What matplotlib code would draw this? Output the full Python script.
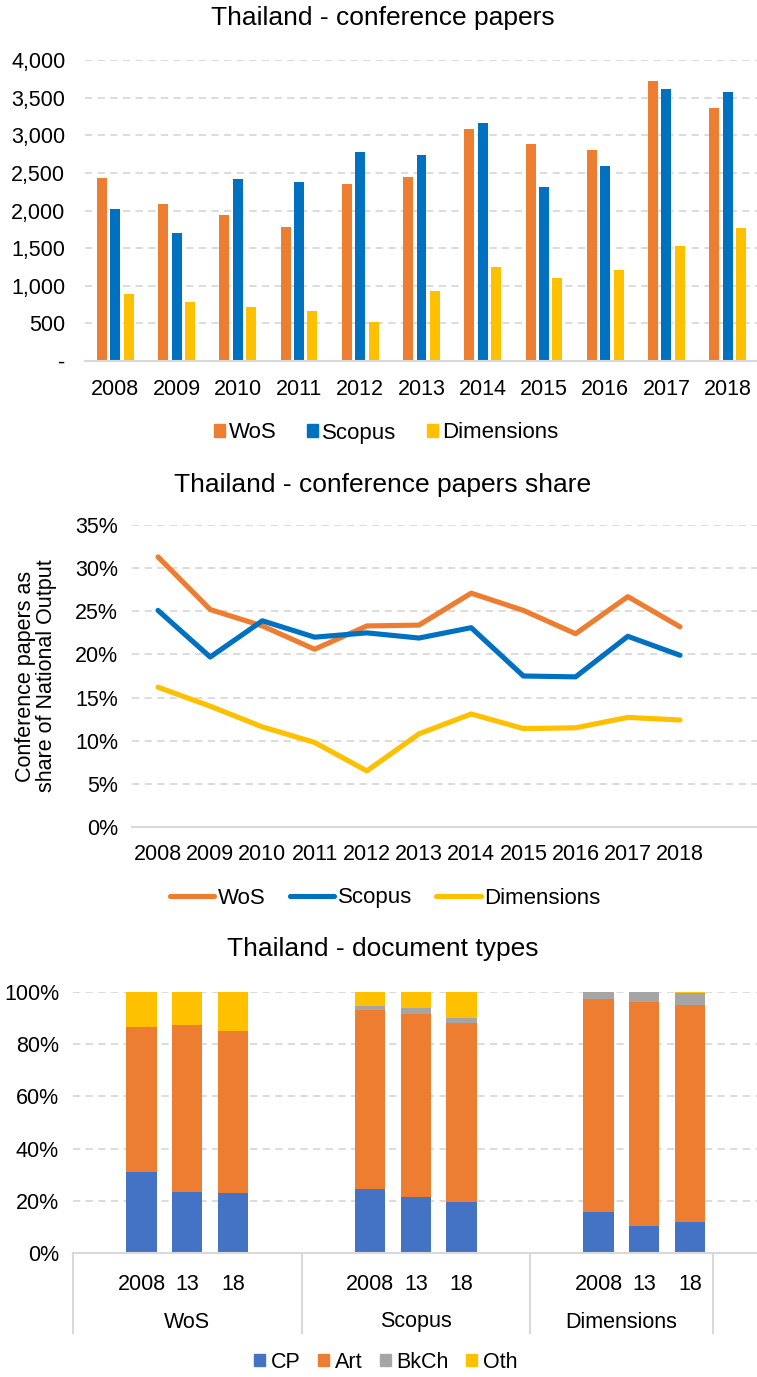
import matplotlib
matplotlib.use("Agg")
import matplotlib.pyplot as plt
import matplotlib.transforms as mtransforms
from matplotlib.patches import Patch
from matplotlib.lines import Line2D
import numpy as np

plt.rcParams['font.family'] = ['Liberation Sans', 'DejaVu Sans']

# ---------------- data ----------------
years = ['2008', '2009', '2010', '2011', '2012', '2013', '2014', '2015', '2016', '2017', '2018']

cp_wos = [2436, 2086, 1945, 1781, 2348, 2441, 3087, 2879, 2800, 3716, 3362]
cp_scopus = [2020, 1705, 2423, 2374, 2782, 2733, 3158, 2312, 2587, 3619, 3570]
cp_dim = [890, 780, 722, 669, 523, 935, 1254, 1103, 1214, 1528, 1763]

share_wos = [31.3, 25.2, 23.3, 20.6, 23.3, 23.4, 27.1, 25.1, 22.4, 26.7, 23.2]
share_scopus = [25.1, 19.7, 23.9, 22.0, 22.5, 21.9, 23.1, 17.5, 17.4, 22.1, 19.9]
share_dim = [16.2, 14.0, 11.6, 9.8, 6.5, 10.8, 13.1, 11.4, 11.5, 12.7, 12.4]

doc_groups = ['WoS', 'Scopus', 'Dimensions']
doc_years = ['2008', '13', '18']
doc_cp = [31.1, 23.2, 22.8, 24.7, 21.5, 19.5, 15.9, 10.3, 12.0]
doc_art = [55.5, 64.2, 62.3, 68.4, 70.1, 68.8, 81.4, 86.0, 83.0]
doc_bkch = [0.0, 0.0, 0.0, 1.5, 2.2, 1.8, 2.7, 3.7, 4.5]
doc_oth = [13.4, 12.6, 14.9, 5.4, 6.2, 9.9, 0.0, 0.0, 0.5]

ORANGE = '#ED7D31'
BLUE = '#0070C0'
YELLOW = '#FFC000'
CPBLUE = '#4472C4'
GRAY = '#A5A5A5'
GRID = '#D9D9D9'
TXT = '#000000'
FS = 15.5
TFS = 19
LFS = 16
LW = 3.7

W, H = 757, 1377
fig = plt.figure(figsize=(W / 100, H / 100), dpi=100)


def fy(y):
    return 1 - y / H


def style(ax):
    for s in ['top', 'right', 'left']:
        ax.spines[s].set_visible(False)
    ax.spines['bottom'].set_color(GRID)
    ax.spines['bottom'].set_linewidth(1.5)
    ax.yaxis.grid(True, color=GRID, linestyle=(0, (4, 3)), linewidth=1.3)
    ax.set_axisbelow(True)
    ax.tick_params(axis='both', length=0, labelsize=FS, colors=TXT)


# ---------------- chart 1 ----------------
l1, r1 = 84.7, 758.3
ax1 = fig.add_axes([l1 / W, fy(361), (r1 - l1) / W, (361 - 60) / H])
x = np.arange(len(years))
bw, off = 0.163, 0.219
ax1.bar(x - off, cp_wos, bw, color=ORANGE, label='WoS')
ax1.bar(x, cp_scopus, bw, color=BLUE, label='Scopus')
ax1.bar(x + off, cp_dim, bw, color=YELLOW, label='Dimensions')
ax1.set_xlim(-0.5, len(years) - 0.5)
ax1.set_ylim(0, 4000)
ax1.set_yticks(range(0, 4001, 500))
ax1.set_yticklabels(['-'] + [f'{v:,}' for v in range(500, 4001, 500)])
ax1.set_xticks(x)
ax1.set_xticklabels(years)
style(ax1)
ax1.tick_params(axis='y', pad=14)
ax1.tick_params(axis='x', pad=13)
fig.text(383 / W, fy(18), 'Thailand - conference papers', ha='center', va='center', fontsize=TFS)
h1 = [Patch(color=c) for c in (ORANGE, BLUE, YELLOW)]
fig.legend(h1, ['WoS', 'Scopus', 'Dimensions'], loc='center', bbox_to_anchor=(386 / W, fy(433)),
           ncol=3, frameon=False, fontsize=LFS, handlelength=0.5, handleheight=0.5,
           handletextpad=0.2, columnspacing=1.35)

# ---------------- chart 2 ----------------
l2, r2 = 131.9, 758.3
ax2 = fig.add_axes([l2 / W, fy(827), (r2 - l2) / W, (827 - 525) / H])
kw = dict(lw=LW, solid_joinstyle='round', solid_capstyle='round')
ax2.plot(x, share_wos, color=ORANGE, **kw)
ax2.plot(x, share_scopus, color=BLUE, **kw)
ax2.plot(x, share_dim, color=YELLOW, **kw)
ax2.set_xlim(-0.5, len(years) + 0.5)
ax2.set_ylim(0, 35)
ax2.set_yticks(range(0, 36, 5))
ax2.set_yticklabels([f'{v}%' for v in range(0, 36, 5)])
ax2.set_xticks(x)
ax2.set_xticklabels(years)
style(ax2)
ax2.tick_params(axis='y', pad=10)
ax2.tick_params(axis='x', pad=12)
fig.text(36 / W, fy(676), 'Conference papers as\nshare of National Output', rotation=90,
         ha='center', va='center', fontsize=FS, linespacing=1.0)
fig.text(383 / W, fy(485), 'Thailand - conference papers share', ha='center', va='center', fontsize=TFS)
h2 = [Line2D([], [], color=c, lw=LW, solid_capstyle='round') for c in (ORANGE, BLUE, YELLOW)]
fig.legend(h2, ['WoS', 'Scopus', 'Dimensions'], loc='center', bbox_to_anchor=(385 / W, fy(898)),
           ncol=3, frameon=False, fontsize=LFS, handlelength=2.0,
           handletextpad=0.15, columnspacing=1.1)

# ---------------- chart 3 ----------------
l3, r3 = 73, 758.5
ax3 = fig.add_axes([l3 / W, fy(1253), (r3 - l3) / W, (1253 - 992) / H])
pos = [1, 2, 3, 6, 7, 8, 11, 12, 13]
bw3 = 0.66
cp = np.array(doc_cp)
art = np.array(doc_art)
bk = np.array(doc_bkch)
oth = np.array(doc_oth)
ax3.bar(pos, cp, bw3, color=CPBLUE, label='CP')
ax3.bar(pos, art, bw3, bottom=cp, color=ORANGE, label='Art')
ax3.bar(pos, bk, bw3, bottom=cp + art, color=GRAY, label='BkCh')
ax3.bar(pos, oth, bw3, bottom=cp + art + bk, color=YELLOW, label='Oth')
ax3.set_xlim(-0.5, 14.5)
ax3.set_ylim(0, 100)
ax3.set_yticks(range(0, 101, 20))
ax3.set_yticklabels([f'{v}%' for v in range(0, 101, 20)])
ax3.set_xticks(pos)
ax3.set_xticklabels(doc_years * 3)
style(ax3)
ax3.tick_params(axis='y', pad=10)
ax3.tick_params(axis='x', pad=15)
trans = mtransforms.blended_transform_factory(ax3.transData, ax3.transAxes)
for sx in [-0.5, 4.5, 9.5, 13.5]:
    ax3.plot([sx, sx], [0, -80 / 261], color=GRID, lw=1.5, transform=trans, clip_on=False)
for gx, g in zip([2, 7, 11.5], doc_groups):
    ax3.text(gx, -69 / 261, g, transform=trans, ha='center', va='center', fontsize=FS)
fig.text(383 / W, fy(949), 'Thailand - document types', ha='center', va='center', fontsize=TFS)
h3 = [Patch(color=c) for c in (CPBLUE, ORANGE, GRAY, YELLOW)]
fig.legend(h3, ['CP', 'Art', 'BkCh', 'Oth'], loc='center', bbox_to_anchor=(386 / W, fy(1362)),
           ncol=4, frameon=False, fontsize=FS, handlelength=0.5, handleheight=0.5,
           handletextpad=0.28, columnspacing=0.8)

fig.savefig('out.png', dpi=100)
